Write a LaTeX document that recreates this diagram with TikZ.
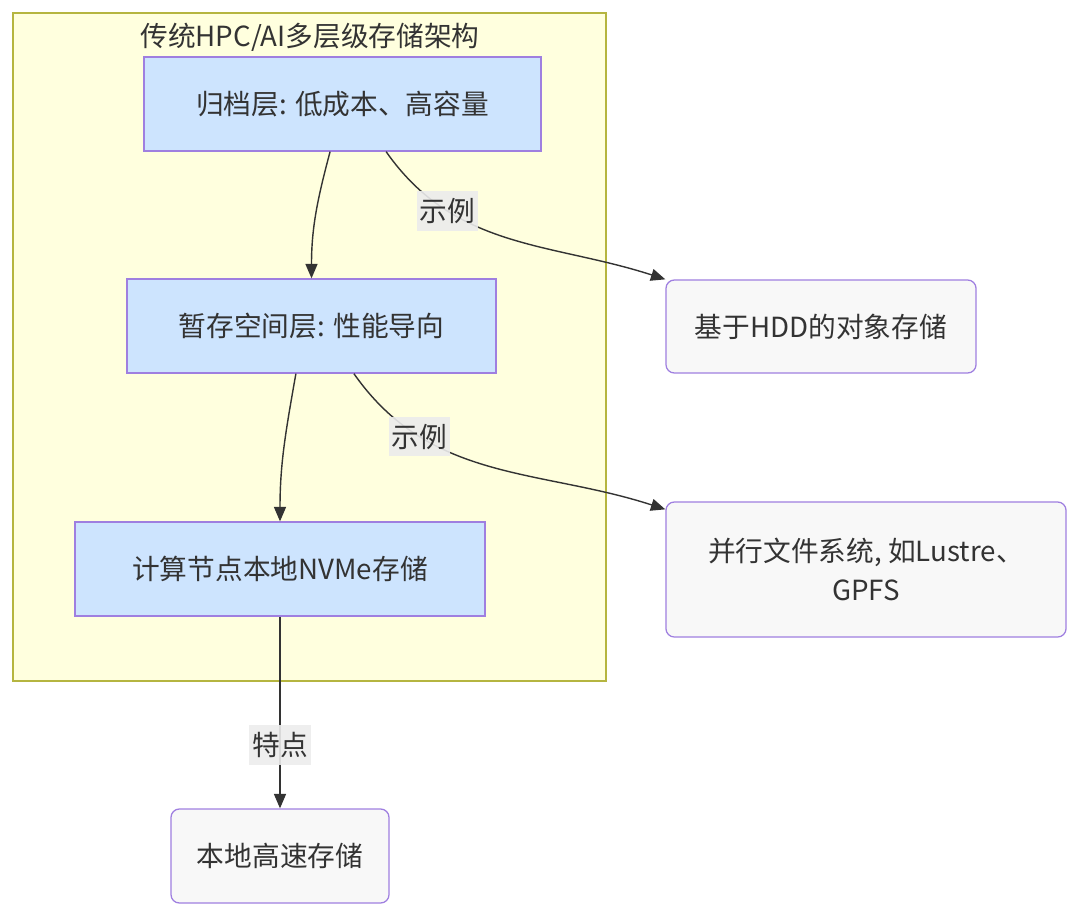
\documentclass[tikz,border=0pt]{standalone}
\usepackage{fontspec}
\setmainfont{Noto Sans CJK SC}
\usepackage{xcolor}
\usepackage{tikz}
\usetikzlibrary{arrows.meta}

\definecolor{tierfill}{HTML}{CDE4FE}
\definecolor{tierline}{HTML}{9F7FE0}
\definecolor{exfill}{HTML}{F8F8F8}
\definecolor{groupfill}{HTML}{FFFFDE}
\definecolor{groupline}{HTML}{B5B540}
\definecolor{inkgray}{HTML}{333333}

\begin{document}
\begin{tikzpicture}[
  x=0.025cm, y=-0.025cm,
  tier/.style={draw=tierline, line width=0.9pt, fill=tierfill, minimum height=2.35cm, align=center, text=inkgray, font=\fontsize{19.7}{28}\selectfont},
  ex/.style={draw=tierline, line width=0.9pt, fill=exfill, rounded corners=6pt, align=center, text=inkgray, font=\fontsize{19.7}{28}\selectfont},
  lbl/.style={fill=gray!15, fill opacity=0.9, text opacity=1, inner xsep=2pt, inner ysep=5pt, text=inkgray, font=\fontsize{19.7}{28}\selectfont},
  -{Stealth[length=0.36cm, width=0.3cm, inset=0pt]}, line width=1pt, draw=inkgray
]
\useasboundingbox (0,0) rectangle (1080,917);
\draw[-, fill=groupfill, draw=groupline] (13,13) rectangle (606,681);
\node[text=inkgray, font=\fontsize{19.7}{28}\selectfont] (title) at (310,37) {传统HPC/AI多层级存储架构};

\node[tier, minimum width=9.925cm] (archive) at (342.5,104) {归档层: 低成本、高容量};
\node[tier, minimum width=9.225cm] (scratch) at (311.5,326) {暂存空间层: 性能导向};
\node[tier, minimum width=10.25cm] (local)   at (280,569)   {计算节点本地NVMe存储};
\node[ex, minimum width=7.75cm, minimum height=2.325cm] (hdd) at (821,326.5) {基于HDD的对象存储};
\node[ex, minimum width=10cm, minimum height=3.375cm]   (pfs) at (866,569.5) {并行文件系统, 如Lustre、\\GPFS};
\node[ex, minimum width=5.45cm, minimum height=2.35cm]  (fast) at (280,856)  {本地高速存储};

\draw ([xshift=-0.31cm]archive.south) to[out=-105, in=90] (scratch.north);
\draw ([xshift=1.09cm]archive.south) to[out=-55, in=162] node[lbl, pos=0.27]{示例} (hdd.north west);
\draw ([xshift=-0.39cm]scratch.south) to[out=-100, in=90] (local.north);
\draw ([xshift=1.06cm]scratch.south) to[out=-55, in=162] node[lbl, pos=0.26]{示例} ([yshift=-0.2cm]pfs.north west);
\draw (local) -- node[lbl, pos=0.67]{特点} (fast);
\end{tikzpicture}
\end{document}
